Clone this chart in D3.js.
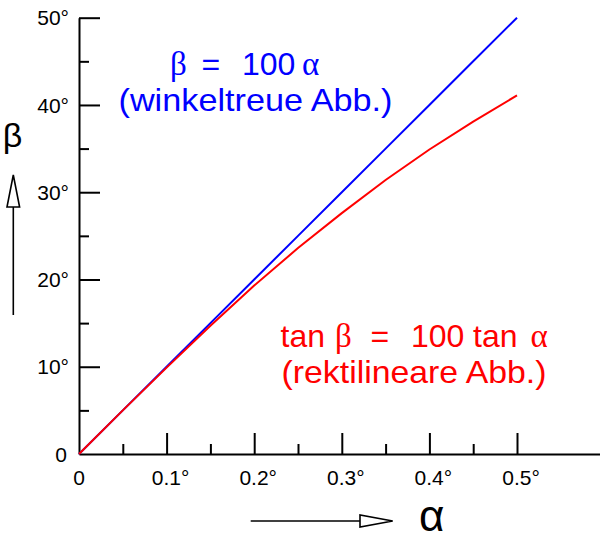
<!DOCTYPE html>
<html>
<head>
<meta charset="utf-8">
<script src="https://cdn.jsdelivr.net/npm/d3@7"></script>
<style>
  html, body { margin: 0; padding: 0; background: #fff; }
  svg { display: block; }
  text { font-family: "Liberation Sans", Arial, sans-serif; }
</style>
</head>
<body>
<svg id="chart" width="600" height="548"></svg>
<script>
// ---- data ----
const alphaDeg = [0, 0.05, 0.1, 0.15, 0.2, 0.25, 0.3, 0.35, 0.4, 0.45, 0.5];
const betaConformal = [0, 5, 10, 15, 20, 25, 30, 35, 40, 45, 50];
const betaRectilinear = [0, 5.0, 9.9, 14.7, 19.3, 23.6, 27.6, 31.4, 34.9, 38.1, 41.1];
const xMajorTicks = [0.1, 0.2, 0.3, 0.4, 0.5];
const xMinorTicks = [0.05, 0.15, 0.25, 0.35, 0.45];
const xTickLabels = ["0", "0.1", "0.2", "0.3", "0.4", "0.5"];
const yMajorTicks = [10, 20, 30, 40, 50];
const yMinorTicks = [5, 15, 25, 35, 45];
const yTickLabels = ["0", "10°", "20°", "30°", "40°", "50°"];

const svg = d3.select("#chart");
const x = d3.scaleLinear().domain([0, 0.6]).range([79, 79 + 876 * 0.6]);
const y = d3.scaleLinear().domain([0, 50]).range([454, 17.7]);

const sans = '"Liberation Sans", Arial, sans-serif';
const serif = '"Liberation Serif", "Times New Roman", serif';

// ---- axes ----
const gx = svg.append("g").attr("transform", `translate(0,${y(0)})`);
gx.call(d3.axisBottom(x).tickValues(xMajorTicks).tickSize(-21).tickSizeOuter(0).tickFormat(""));
gx.append("g").call(d3.axisBottom(x).tickValues(xMinorTicks).tickSize(-10).tickSizeOuter(0).tickFormat(""))
  .select(".domain").remove();
gx.selectAll("path, line").attr("stroke", "#000").attr("stroke-width", 2);
gx.selectAll(".xlab").data([0].concat(xMajorTicks)).enter().append("text")
  .attr("class", "xlab")
  .attr("x", d => x(d)).attr("y", 31)
  .attr("text-anchor", "middle")
  .attr("dx", (d, i) => i === 0 ? 0 : 4)
  .attr("font-size", 21).attr("fill", "#000").attr("font-family", sans)
  .text((d, i) => i === 0 ? xTickLabels[i] : xTickLabels[i] + "°");

const gy = svg.append("g").attr("transform", `translate(${x(0)},0)`);
gy.call(d3.axisLeft(y).tickValues(yMajorTicks).tickSize(-21).tickSizeOuter(0).tickFormat(""));
gy.append("g").call(d3.axisLeft(y).tickValues(yMinorTicks).tickSize(-10).tickSizeOuter(0).tickFormat(""))
  .select(".domain").remove();
gy.selectAll("path, line").attr("stroke", "#000").attr("stroke-width", 2);
gy.selectAll(".ylab").data([0].concat(yMajorTicks)).enter().append("text")
  .attr("class", "ylab")
  .attr("x", d => d === 0 ? -12 : -10).attr("y", d => y(d))
  .attr("dy", "0.36em")
  .attr("text-anchor", "end")
  .attr("font-size", 21).attr("fill", "#000").attr("font-family", sans)
  .text((d, i) => yTickLabels[i]);

// ---- curves ----
const line = d3.line().x(d => x(d[0])).y(d => y(d[1]));
svg.append("path")
  .datum(alphaDeg.map((a, i) => [a, betaConformal[i]]))
  .attr("d", line).attr("fill", "none").attr("stroke", "#0000ff").attr("stroke-width", 2);
svg.append("path")
  .datum(alphaDeg.map((a, i) => [a, betaRectilinear[i]]))
  .attr("d", line).attr("fill", "none").attr("stroke", "#ff0000").attr("stroke-width", 2);

// ---- annotations ----
function formulaLine(parts, yb, color) {
  const t = svg.append("text").attr("y", yb).attr("fill", color).attr("font-size", 32);
  parts.forEach(p => {
    t.append("tspan").attr("x", p[1]).attr("font-family", p[2] ? serif : sans)
      .attr("font-size", p[2] ? 33 : 32).text(p[0]);
  });
}
function noteLine(str, px, yb, len, color) {
  svg.append("text").attr("x", px).attr("y", yb).attr("fill", color)
    .attr("font-size", 32).attr("font-family", sans)
    .attr("textLength", len).attr("lengthAdjust", "spacingAndGlyphs").text(str);
}
formulaLine([["β", 170, true], ["=", 201.5, false], ["100", 242, false], ["α", 302, true]], 75, "#0000ff");
noteLine("(winkeltreue Abb.)", 118.5, 110.5, 274, "#0000ff");

formulaLine([["tan", 280.5, false], ["β", 335, true], ["=", 370.5, false],
             ["100", 411, false], ["tan", 473, false], ["α", 530.5, true]], 347, "#ff0000");
noteLine("(rektilineare Abb.)", 281.5, 383, 265, "#ff0000");

// ---- axis name arrows ----
svg.append("line").attr("x1", 13.3).attr("x2", 13.3).attr("y1", 207).attr("y2", 315)
  .attr("stroke", "#000").attr("stroke-width", 1.6);
svg.append("path").attr("d", "M13.3,175 L19.6,207 L7,207 Z")
  .attr("fill", "#fff").attr("stroke", "#000").attr("stroke-width", 1.6);
svg.append("text").attr("x", 12.5).attr("y", 147).attr("text-anchor", "middle")
  .attr("font-family", serif).attr("font-size", 34).attr("fill", "#000").text("β");

svg.append("line").attr("x1", 250.7).attr("x2", 360).attr("y1", 521).attr("y2", 521)
  .attr("stroke", "#000").attr("stroke-width", 1.6);
svg.append("path").attr("d", "M392.7,521 L360,515 L360,527 Z")
  .attr("fill", "#fff").attr("stroke", "#000").attr("stroke-width", 1.6);
svg.append("text").attr("x", 419).attr("y", 531).attr("text-anchor", "start")
  .attr("font-family", serif).attr("font-size", 44).attr("fill", "#000").text("α");
</script>
</body>
</html>
